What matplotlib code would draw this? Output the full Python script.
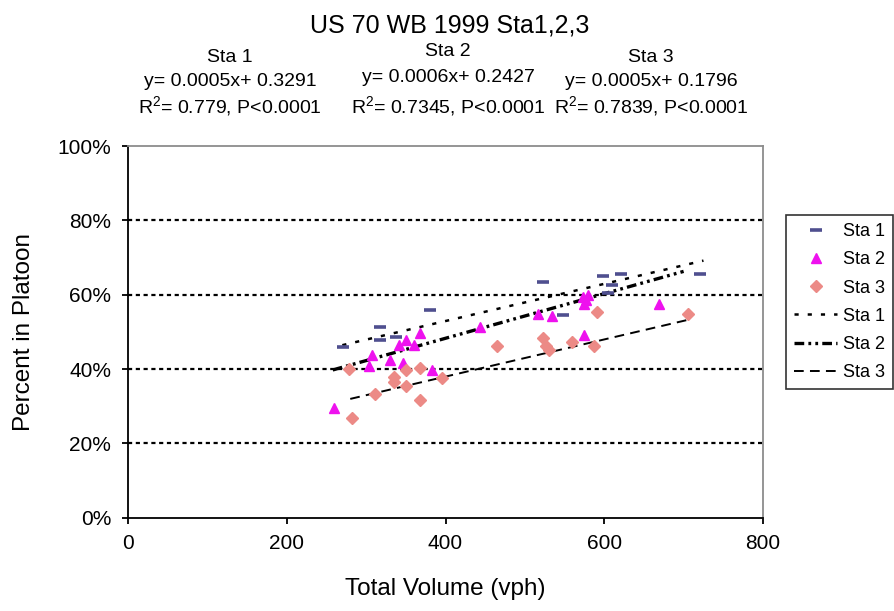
import matplotlib
matplotlib.use("Agg")
import matplotlib.pyplot as plt
import numpy as np

plt.rcParams["font.family"] = ["Liberation Sans", "DejaVu Sans"]
plt.rcParams["mathtext.fontset"] = "custom"
plt.rcParams["mathtext.rm"] = "Liberation Sans"
plt.rcParams["mathtext.it"] = "Liberation Sans"
plt.rcParams["lines.scale_dashes"] = False

# Station 1 observations: total volume (vph) vs. share of vehicles in platoons
sta1_vol = [271, 318, 318, 338, 380, 523, 548, 599, 605, 610, 621, 721]
sta1_pct = [0.460, 0.513, 0.479, 0.485, 0.558, 0.634, 0.546, 0.650, 0.604, 0.625, 0.656, 0.656]

# Station 2 observations
sta2_vol = [259, 304, 307, 330, 342, 350, 360, 346, 368, 383, 443, 516, 534,
            573, 577, 575, 579, 574, 669]
sta2_pct = [0.294, 0.408, 0.439, 0.423, 0.464, 0.478, 0.464, 0.416, 0.498, 0.397,
            0.513, 0.548, 0.542, 0.594, 0.585, 0.576, 0.598, 0.491, 0.574]

# Station 3 observations
sta3_vol = [279, 282, 311, 335, 335, 350, 350, 368, 368, 395, 465, 523, 527, 530,
            559, 587, 591, 705]
sta3_pct = [0.399, 0.269, 0.333, 0.379, 0.366, 0.397, 0.354, 0.403, 0.316, 0.375,
            0.462, 0.483, 0.462, 0.451, 0.473, 0.462, 0.554, 0.548]

# Linear fits reported for each station (slope, intercept, R^2) and drawn span
fit_slope = [0.0005, 0.0006, 0.0005]
fit_icept = [0.3291, 0.2427, 0.1796]
fit_r2 = ["0.779", "0.7345", "0.7839"]
fit_from = [270, 258, 280]
fit_to = [725, 700, 710]
station_names = ["Sta 1", "Sta 2", "Sta 3"]

x_ticks = [0, 200, 400, 600, 800]
y_ticks = [0.0, 0.2, 0.4, 0.6, 0.8, 1.0]
y_tick_labels = ["0%", "20%", "40%", "60%", "80%", "100%"]

fig = plt.figure(figsize=(8.94, 6.11), dpi=100)
W, H = 894, 611
ax = fig.add_axes([128 / W, 1 - 517.7 / H, (763 - 128) / W, (517.7 - 146) / H])

ax.set_xlim(0, 800)
ax.set_ylim(0, 1.0)

# horizontal gridlines
for yv in y_ticks[1:-1]:
    ax.axhline(yv, color="black", lw=1.6, dashes=(3.0, 2.6), zorder=1)

# frame: black axes, grey plot-area border
for side in ("left", "bottom"):
    ax.spines[side].set_color("black")
    ax.spines[side].set_linewidth(1.3)
for side in ("top", "right"):
    ax.spines[side].set_color("#8c8c8c")
    ax.spines[side].set_linewidth(1.3)

ax.set_xticks(x_ticks)
ax.set_yticks(y_ticks)
ax.set_yticklabels(y_tick_labels)
ax.tick_params(axis="both", direction="out", length=4, width=1.3, labelsize=15,
               colors="black", pad=8)

# trend lines from the reported equations
line_styles = [
    dict(color="black", lw=1.8, dashes=(3.0, 6.5)),
    dict(color="black", lw=2.4, dashes=(7.0, 3.0, 2.0, 3.0, 2.0, 3.0)),
    dict(color="black", lw=1.4, dashes=(7.0, 4.5)),
]
trend_handles = []
for k in range(3):
    xs = np.array([fit_from[k], fit_to[k]], dtype=float)
    ys = fit_slope[k] * xs + fit_icept[k]
    h, = ax.plot(xs, ys, zorder=2, **line_styles[k])
    trend_handles.append(h)

# observations
h1, = ax.plot(sta1_vol, sta1_pct, ls="none", marker="_", ms=8, mew=2.6,
              color="#4f4f8f", zorder=3)
h2, = ax.plot(sta2_vol, sta2_pct, ls="none", marker="^", ms=7.5,
              color="#ee11ee", mec="#ee11ee", zorder=3)
h3, = ax.plot(sta3_vol, sta3_pct, ls="none", marker="D", ms=6,
              color="#ec8a86", mec="#ec8a86", zorder=3)

ax.set_xlabel("Total Volume (vph)", fontsize=17.5, labelpad=18)
ax.set_ylabel("Percent in Platoon", fontsize=17.5, labelpad=16)

# title and regression summaries
fig.text(450 / W, 1 - 25 / H, "US 70 WB 1999 Sta1,2,3", ha="center", va="center",
         fontsize=18)
col_x = [230, 448, 651]
col_y = [[58, 82, 106], [52, 78, 106], [58, 82, 106]]
for k in range(3):
    cx = col_x[k] / W
    fig.text(cx, 1 - col_y[k][0] / H, station_names[k], ha="center", va="center",
             fontsize=14)
    fig.text(cx, 1 - col_y[k][1] / H,
             "y= %.4fx+ %.4f" % (fit_slope[k], fit_icept[k]),
             ha="center", va="center", fontsize=14)
    fig.text(cx, 1 - col_y[k][2] / H,
             r"R$^2$= %s, P<0.0001" % fit_r2[k],
             ha="center", va="center", fontsize=14)

# legend
handles = [h1, h2, h3] + trend_handles
labels = station_names + station_names
leg = fig.legend(handles, labels, loc="upper left",
                 bbox_to_anchor=(786 / W, 1 - 215 / H), fontsize=13,
                 frameon=True, fancybox=False, edgecolor="black",
                 handlelength=2.4, handletextpad=0.3, borderpad=0.45,
                 labelspacing=0.62, borderaxespad=0)
leg.get_frame().set_linewidth(1.2)

fig.savefig("out.png", dpi=100)
